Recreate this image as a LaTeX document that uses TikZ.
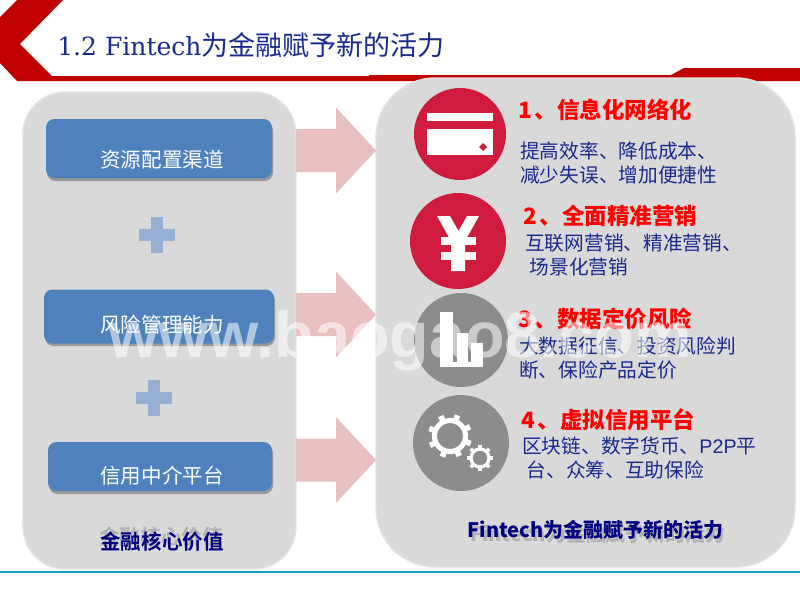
\documentclass[tikz,border=0pt]{standalone}
\usepackage{fontspec}
\usepackage{xcolor}
\usetikzlibrary{positioning}
\setmainfont{DejaVu Serif}
\setsansfont{Liberation Sans}
\newfontfamily\cjk{Noto Sans CJK SC}
\newfontfamily\cjkb{Noto Sans CJK SC Bold}
\definecolor{headred}{HTML}{C00000}
\definecolor{panelgray}{HTML}{D9D9D9}
\definecolor{paneledge}{HTML}{E3E3E3}
\definecolor{boxblue}{HTML}{4F81BD}
\definecolor{plusblue}{HTML}{95B0D2}
\definecolor{arrowpink}{HTML}{E8C0C0}
\definecolor{roundred}{HTML}{D01C3C}
\definecolor{roundgray}{HTML}{8C8C8C}
\definecolor{textnavy}{HTML}{1A2A8C}
\definecolor{darknavy}{HTML}{000080}
\definecolor{linecyan}{HTML}{1B9BCB}
\tikzset{
  panel/.style={fill=panelgray, draw=paneledge, line width=1pt},
  valuebox/.style={fill=boxblue, rounded corners=6pt, draw=none},
  boxshadow/.style={fill=black!40, rounded corners=6pt, draw=none},
  boxtext/.style={text=white, font=\fontsize{14.6pt}{17pt}\selectfont\cjk},
  headtext/.style={text=red, anchor=west, font=\fontsize{16pt}{19pt}\selectfont\sffamily\bfseries\cjkb},
  bodytext/.style={text=textnavy, anchor=north west, align=left, inner sep=0pt,
    font=\fontsize{14pt}{17pt}\selectfont\cjk},
  pinkarrow/.style={fill=arrowpink, draw=none},
  plusmark/.style={fill=plusblue, draw=none},
  iconpart/.style={fill=white, draw=none}
}
\begin{document}
\begin{tikzpicture}[x=0.025cm, y=-0.025cm]
    \useasboundingbox (0,0) rectangle (800,600);
    \fill[white] (0,0) rectangle (800,600);

    % header
    \fill[headred] (0,17) -- (17,0) -- (63,0) -- (20,44) -- (52,76) -- (369,76) -- (369,75)
        -- (671,75) -- (684,68) -- (800,68) -- (800,81) -- (17,81) -- (0,63) -- cycle;
    \node (title) at (57,45) [anchor=west, inner sep=0pt, text=textnavy] {\fontsize{17.8pt}{22pt}\selectfont 1.2 Fintech{\fontsize{19.2pt}{22pt}\selectfont\cjk 为金融赋予新的活力}};

    % bottom line
    \coordinate (lineL) at (0,572);
    \coordinate (lineR) at (800,572);
    \draw[linecyan, line width=1.6pt] (lineL) -- (lineR);

    % panels
    \draw[panel, rounded corners=30pt] (23,92) rectangle (296,569);
    \draw[panel, rounded corners=42pt] (376,78) rectangle (795,567);

    % arrows
    \foreach \name/\ya in {arrowA/150.5, arrowB/314.5, arrowC/460} {
        \fill[pinkarrow] (296,\ya-21.5) -- (336,\ya-21.5) -- (336,\ya-43) -- (376,\ya)
            -- (336,\ya+43) -- (336,\ya+21.5) -- (296,\ya+21.5) -- cycle;
    }

    % value boxes
    \fill[boxshadow] (47,122) rectangle (273,181);
    \fill[boxshadow] (45,292) rectangle (275,346);
    \fill[boxshadow] (49,445) rectangle (273,494);
    \node (boxA) at (159,148.5) [valuebox, minimum width=226*0.025cm, minimum height=59*0.025cm] {};
    \node (boxB) at (159,316.5) [valuebox, minimum width=230*0.025cm, minimum height=54*0.025cm] {};
    \node (boxC) at (160,466.5) [valuebox, minimum width=224*0.025cm, minimum height=49*0.025cm] {};
    \node (labelA) at (162,160) [boxtext] {资源配置渠道};
    \node (labelB) at (162,325) [boxtext] {风险管理能力};
    \node (labelC) at (162,476) [boxtext] {信用中介平台};

    % plus marks
    \foreach \cx/\cy in {157/235, 154/398} {
        \fill[plusmark] (\cx-6,\cy-18) rectangle (\cx+6,\cy+18);
        \fill[plusmark] (\cx-18,\cy-6) rectangle (\cx+18,\cy+6);
    }
    \node (coreshadow) at (161,537) [text=black!30, font=\fontsize{14.6pt}{17pt}\selectfont\cjkb] {金融核心价值};
    \node (core) at (162,542) [text=darknavy, font=\fontsize{14.6pt}{17pt}\selectfont\cjkb] {金融核心价值};

    % circles
    \node (roundA) at (460,134) [circle, fill=roundred, minimum size=92*0.025cm, inner sep=0pt] {};
    \node (roundB) at (458,241) [circle, fill=roundred, minimum size=96*0.025cm, inner sep=0pt] {};
    \node (roundC) at (461,340) [circle, fill=roundgray, minimum size=94*0.025cm, inner sep=0pt] {};
    \node (roundD) at (461,443) [circle, fill=roundgray, minimum size=96*0.025cm, inner sep=0pt] {};

    % card
    \fill[iconpart] (427,113) rectangle (493,121);
    \fill[iconpart] (427,129) rectangle (493,155);
    \fill[roundred] (483,143) -- (487,147) -- (483,151) -- (479,147) -- cycle;

    % yen
    \fill[iconpart] (437,216) -- (450,216) -- (458.5,231) -- (467,216) -- (479,216) -- (465,241)
        -- (465,271) -- (451,271) -- (451,241) -- cycle;
    \fill[iconpart] (441,237) rectangle (476,245);
    \fill[iconpart] (441,252) rectangle (476,260);

    % bars
    \fill[iconpart] (440,312) rectangle (453,367);
    \fill[iconpart] (457,333) rectangle (468,367);
    \fill[iconpart] (471,343) rectangle (483,367);
    \fill[iconpart] (440,362) rectangle (483,367);

    % gears
    \draw[white, line width=3.6pt] (450,436) circle (15.5);
    \foreach \a in {0,45,...,315} {
        \draw[white, line width=4pt] (450,436) ++(\a+20:17) -- ++(\a+20:5);
    }
    \draw[white, line width=2.3pt] (480,458) circle (9);
    \foreach \a in {0,45,...,315} {
        \draw[white, line width=2.6pt] (480,458) ++(\a:10) -- ++(\a:3);
    }

    % texts
    \node (headA) at (518,110) [headtext, inner sep=0pt] {1\kern2pt、信息化网络化};
    \node (headB) at (523,216) [headtext, inner sep=0pt] {2\kern2pt、全面精准营销};
    \node (headC) at (518,319) [headtext, inner sep=0pt] {3\kern2pt、数据定价风险};
    \node (headD) at (521,420) [headtext, inner sep=0pt] {4\kern2pt、虚拟信用平台};
    \node (bodyA) at (520,142) [bodytext] {提高效率、降低成本、\\减少失误、增加便捷性};
    \node (bodyB) at (525,234) [bodytext] {互联网营销、精准营销、\\\ 场景化营销};
    \node (bodyC) at (519,337) [bodytext] {大数据征信、投资风险判\\断、保险产品定价};
    \node (bodyD) at (522,437) [bodytext] {区块链、数字货币、{\sffamily P2P}平\\\ 台、众筹、互助保险};
    \node (endshadow) at (598,534) [text=black!30, font=\fontsize{14.2pt}{17pt}\selectfont\sffamily\bfseries\cjkb] {Fintech为金融赋予新的活力};
    \node (endtext) at (595.5,530) [text=darknavy, font=\fontsize{14.2pt}{17pt}\selectfont\sffamily\bfseries\cjkb] {Fintech为金融赋予新的活力};

    % watermark
    \node (mark) at (400,341) [text=white, opacity=0.55, font=\fontsize{46pt}{46pt}\selectfont\sffamily\bfseries] {www.baogao8.com};
\end{tikzpicture}
\end{document}
